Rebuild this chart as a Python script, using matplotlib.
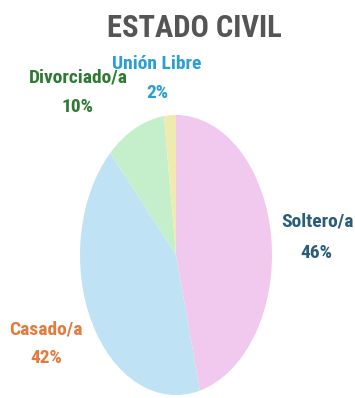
import matplotlib
matplotlib.use("Agg")
import matplotlib.pyplot as plt

categories = ["Soltero/a", "Casado/a", "Divorciado/a", "Unión Libre"]
values = [46, 42, 10, 2]
pct_labels = ["46%", "42%", "10%", "2%"]

colors = ["#F1C9EE", "#BFE3F4", "#C5EFCB", "#EFEBB0"]
label_colors = ["#2B5D7B", "#E57A3E", "#2F7A33", "#2A9FD6"]

fam = ["Roboto Condensed", "DejaVu Sans"]

W, H = 355, 398
fig = plt.figure(figsize=(W/100, H/100), dpi=100)
ax = fig.add_axes([0, 0, 1, 1])

cx, cy, rx, ry = 176, 255, 96, 140
ax.pie(values, colors=colors, startangle=90, counterclock=False,
       wedgeprops=dict(edgecolor="none", linewidth=0))
ax.set_aspect("auto")
ax.set_xlim(-cx/rx, (W-cx)/rx)
ax.set_ylim(-(H-cy)/ry, cy/ry)
ax.axis("off")

def px(x, y):
    return ((x-cx)/rx, (cy-y)/ry)

ax.text(*px(194, 28), "ESTADO CIVIL", ha="center", va="center",
        fontsize=22, fontweight="bold", color="#555555", family=fam)

pos = {"Soltero/a": [(317, 222), (316, 253)],
       "Casado/a": [(46, 330), (46, 358)],
       "Divorciado/a": [(78, 78), (78, 107)],
       "Unión Libre": [(157, 64), (157, 93)]}
for cat, pl, col in zip(categories, pct_labels, label_colors):
    (x1, y1), (x2, y2) = pos[cat]
    ax.text(*px(x1, y1), cat, ha="center", va="center", fontsize=14,
            fontweight="bold", color=col, family=fam)
    ax.text(*px(x2, y2), pl, ha="center", va="center", fontsize=14,
            fontweight="bold", color=col, family=fam)

fig.savefig("out.png", dpi=100)
